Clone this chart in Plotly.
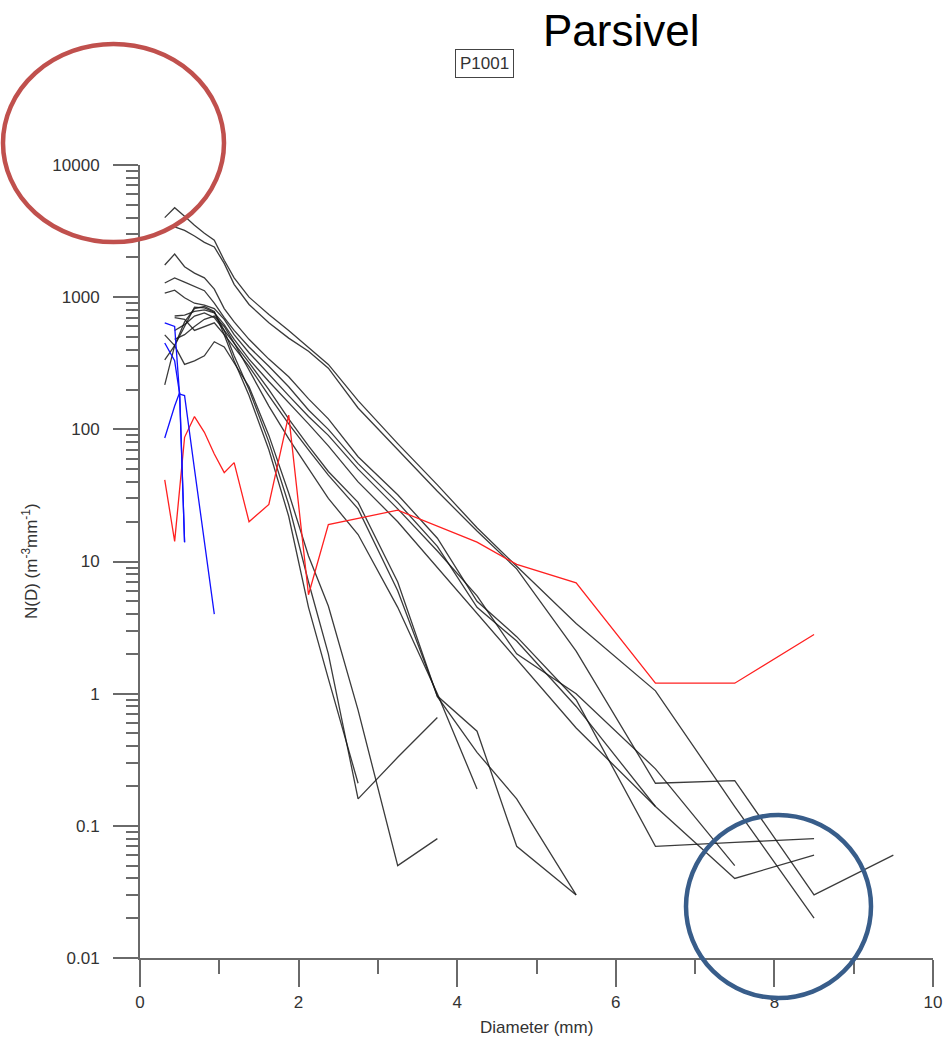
import plotly.graph_objects as go

# Parsivel size-class centres (mm)
diam_mm = [0.312, 0.437, 0.562, 0.687, 0.812, 0.937, 1.062, 1.187, 1.375, 1.625,
           1.875, 2.125, 2.375, 2.75, 3.25, 3.75, 4.25, 4.75, 5.5, 6.5, 7.5, 8.5, 9.5]

# Black spectra, N(D) in m^-3 mm^-1 (None = empty class)
nd_01 = [4000, 4750, 4100, 3500, 3050, 2700, 1900, 1400, 1000, 740, 560, 420, 310, 165, 78, 38, 18, 9.2, 3.4, 1.05, 0.14, 0.02, None]
nd_02 = [None, 3400, 3200, 2900, 2600, 2400, 1800, 1250, 880, 640, 490, 390, 290, 145, 70, 34, 17, 8.8, 2.1, 0.21, 0.22, 0.03, 0.06]
nd_03 = [1750, 2120, 1700, 1520, 1400, 1150, 820, 650, 480, 340, 250, 170, 120, 62, 32, 15, 5.0, 2.7, 0.9, 0.07, 0.075, 0.08, None]
nd_04 = [1280, 1400, 1300, 1200, 1120, 900, 700, 560, 420, 300, 210, 140, 100, 55, 28, 13, 4.5, 2.5, 0.8, 0.14, 0.04, 0.06, None]
nd_05 = [1075, 1130, 990, 900, 870, 820, 680, 520, 380, 260, 180, 125, 90, 50, 25, 12, 5.5, 2.0, 1.0, 0.27, 0.05, None, None]
nd_06 = [None, 720, 730, 780, 800, 760, 620, 480, 340, 230, 160, 110, 75, 40, 20, 9, 4.0, 1.8, 0.55, 0.14, None, None, None]
nd_07 = [None, 700, 680, 560, 600, 640, 520, 420, 300, 180, 110, 70, 45, 25, 6, 0.96, 0.52, 0.07, 0.03, None, None, None, None]
nd_08 = [None, 560, 620, 720, 760, 700, 560, 440, 320, 200, 120, 75, 48, 28, 7, 0.95, 0.36, 0.16, 0.03, None, None, None, None]
nd_09 = [None, 480, 520, 600, 680, 720, 600, 450, 280, 150, 85, 50, 30, 16, 4.5, 1.0, 0.19, None, None, None, None, None, None]
nd_10 = [217, 430, 650, 820, 850, 780, 520, 330, 180, 70, 22, 4.5, 1.3, 0.21, None, None, None, None, None, None, None, None, None]
nd_11 = [335, 430, 600, 840, 830, 770, 560, 360, 200, 80, 27, 7, 2.0, 0.16, 0.33, 0.66, None, None, None, None, None, None, None]
nd_12 = [518, 430, 310, 330, 360, 460, 420, 320, 210, 90, 33, 11, 4.6, 0.75, 0.05, 0.08, None, None, None, None, None, None, None]

# Red spectrum
red_diam = [0.312, 0.437, 0.562, 0.687, 0.812, 0.937, 1.062, 1.187, 1.375, 1.625,
            1.875, 2.125, 2.375, 3.25, 4.25, 4.75, 5.5, 6.5, 7.5, 8.5]
red_nd = [41.5, 14.2, 87, 125, 95, 65, 47, 56, 20, 27,
          128, 5.6, 19, 24.5, 14, 9.5, 6.9, 1.2, 1.2, 2.8]

# Blue spectra
blue_diam = [0.312, 0.437, 0.5, 0.562, 0.687, 0.812, 0.937]
blue_1 = [640, 600, 180, 14, None, None, None]
blue_2 = [450, 330, 185, 180, 50, 14, 4]
blue_3 = [86, 150, 190, 14, None, None, None]

black_series = [nd_01, nd_02, nd_03, nd_04, nd_05, nd_06,
                nd_07, nd_08, nd_09, nd_10, nd_11, nd_12]
blue_series = [blue_1, blue_2, blue_3]

y_tick_vals = [0.01, 0.1, 1, 10, 100, 1000, 10000]
y_tick_text = ["0.01", "0.1", "1", "10", "100", "1000", "10000"]
x_tick_vals = [0, 2, 4, 6, 8, 10]
x_minor_vals = [1, 3, 5, 7, 9]

fig = go.Figure()

for s in black_series:
    fig.add_trace(go.Scatter(x=diam_mm, y=s, mode="lines",
                             line=dict(color="rgba(25,25,25,0.85)", width=1.3),
                             connectgaps=False, showlegend=False, hoverinfo="skip"))

fig.add_trace(go.Scatter(x=red_diam, y=red_nd, mode="lines",
                         line=dict(color="#ff2020", width=1.3),
                         showlegend=False, hoverinfo="skip"))

for s in blue_series:
    fig.add_trace(go.Scatter(x=blue_diam, y=s, mode="lines",
                             line=dict(color="#1010ff", width=1.3),
                             connectgaps=False, showlegend=False, hoverinfo="skip"))

# plot-area geometry in page pixels
W, H = 943, 1042
L, R, T, B = 140, 10, 165, 84
PW, PH = W - L - R, H - T - B


def px(xp):
    return (xp - L) / PW


def py(yp):
    return (H - B - yp) / PH


axis_col = "#6a6a6a"
text_col = "#333333"
font_fam = "Liberation Sans, Arial, sans-serif"

minor_y = [m * 10 ** e for e in range(-2, 4) for m in range(2, 10)]

fig.update_layout(
    width=W, height=H,
    margin=dict(l=L, r=R, t=T, b=B),
    paper_bgcolor="white", plot_bgcolor="white",
    font=dict(family=font_fam, color=text_col, size=16),
    xaxis=dict(range=[0, 10], showgrid=False, zeroline=False, automargin=False,
               showline=True, linecolor=axis_col, linewidth=2,
               ticks="outside", ticklen=27, tickwidth=1.5, tickcolor=axis_col,
               tickvals=x_tick_vals, ticktext=[str(v) for v in x_tick_vals],
               tickfont=dict(size=17, color=text_col),
               ticklabelstandoff=1,
               minor=dict(tickvals=x_minor_vals, ticks="outside", ticklen=14,
                          tickwidth=1.5, tickcolor=axis_col)),
    yaxis=dict(type="log", range=[-2, 4], showgrid=False, zeroline=False, automargin=False,
               showline=True, linecolor=axis_col, linewidth=2,
               ticks="outside", ticklen=25, tickwidth=1.5, tickcolor=axis_col,
               tickvals=y_tick_vals, ticktext=y_tick_text,
               tickfont=dict(size=17, color=text_col),
               ticklabelstandoff=10,
               minor=dict(tickvals=minor_y, ticks="outside", ticklen=12,
                          tickwidth=1.5, tickcolor=axis_col)),
    shapes=[
        dict(type="circle", xref="paper", yref="paper",
             x0=px(3), x1=px(224), y0=py(242), y1=py(44),
             line=dict(color="#C0504D", width=4.5)),
        dict(type="circle", xref="paper", yref="paper",
             x0=px(686), x1=px(871), y0=py(998), y1=py(815),
             line=dict(color="#385D8A", width=4.5)),
    ],
    annotations=[
        dict(text="Parsivel", xref="paper", yref="paper", x=px(621), y=py(30),
             showarrow=False, xanchor="center", yanchor="middle",
             font=dict(family=font_fam, size=44, color="black")),
        dict(text="P1001", xref="paper", yref="paper", x=px(484), y=py(64),
             showarrow=False, xanchor="center", yanchor="middle",
             bordercolor="#444444", borderwidth=1, borderpad=4, bgcolor="white",
             font=dict(size=17, color=text_col)),
        dict(text="Diameter (mm)", xref="paper", yref="paper", x=px(536), y=py(1027),
             showarrow=False, xanchor="center", yanchor="middle",
             font=dict(size=17, color=text_col)),
        dict(text="N(D) (m<sup>-3</sup>mm<sup>-1</sup>)", xref="paper", yref="paper",
             x=px(30), y=py(561), textangle=-90, showarrow=False,
             xanchor="center", yanchor="middle",
             font=dict(size=17, color=text_col)),
    ],
)

fig.write_html("out.html")
